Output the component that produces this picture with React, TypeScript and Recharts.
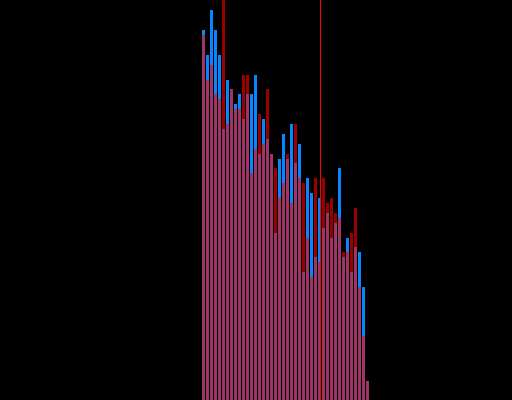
import React from "react";
import { BarChart, Bar, XAxis, YAxis, ReferenceLine } from "recharts";

const bins = [
  1, 2, 3, 4, 5, 6, 7, 8, 9, 10, 11, 12, 13, 14, 15, 16, 17, 18, 19, 20, 21,
  22, 23, 24, 25, 26, 27, 28, 29, 30, 31, 32, 33, 34, 35, 36, 37, 38, 39, 40,
  41, 42,
];

const blueValues = [
  92.5, 86.25, 97.5, 92.5, 86.25, 67.75, 80, 77.75, 74, 76.5, 70.25, 76.5,
  76.5, 81.25, 61.5, 70.25, 65.25, 61.5, 41.75, 60.25, 66.5, 60.25, 69, 59.25,
  64, 32, 55.5, 51.75, 35.75, 50.5, 43, 46.75, 40.5, 44.25, 58, 35.75, 40.5,
  32, 38.25, 37, 28.25, 4.75,
];

const redValues = [
  91.25, 80, 83.75, 76.5, 75.25, 100, 69, 77.75, 72.75, 72.75, 81.25, 81.25,
  56.75, 62.75, 71.5, 64, 77.75, 61.5, 58, 50.5, 54.25, 61.5, 49.25, 69, 55.5,
  54.25, 40.5, 30.75, 55.5, 34.5, 55.5, 49.25, 50.5, 46.75, 45.5, 37, 37,
  41.75, 48, 28.25, 16, 4.75,
];

const markerPosition = 29.875;

const data = bins.map((b, i) => ({ bin: b, blue: blueValues[i], red: redValues[i] }));

export default function App() {
  return (
    <div
      style={{
        position: "absolute",
        left: 0,
        top: 0,
        width: 512,
        height: 400,
        background: "#000000",
        overflow: "hidden",
      }}
    >
      <BarChart
        width={512}
        height={400}
        data={data}
        margin={{ top: 0, right: 143, bottom: 0, left: 201 }}
        barGap={-3}
      >
        <XAxis dataKey="bin" hide />
        <XAxis
          xAxisId="ref"
          dataKey="bin"
          type="number"
          domain={[0, 42]}
          allowDataOverflow
          hide
        />
        <YAxis hide domain={[0, 100]} allowDataOverflow />
        <Bar dataKey="blue" fill="#0a84ff" barSize={3} isAnimationActive={false} />
        <Bar
          dataKey="red"
          fill="#ff0000"
          fillOpacity={0.6}
          barSize={3}
          isAnimationActive={false}
        />
        <ReferenceLine x={markerPosition} xAxisId="ref" stroke="#ff0000" strokeWidth={1} />
      </BarChart>
    </div>
  );
}
